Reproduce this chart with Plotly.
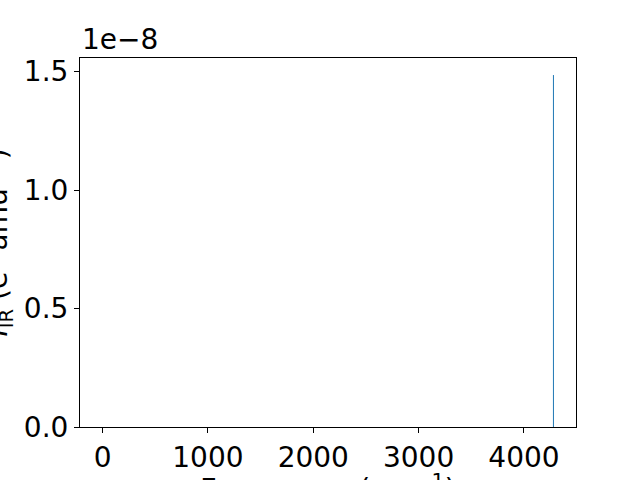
import plotly.graph_objects as go

frequencies = [4280.0]
intensities = [1.485e-8]
ytick_vals = [0.0, 0.5e-8, 1.0e-8, 1.5e-8]
ytick_text = ["0.0", "0.5", "1.0", "1.5"]
xtick_vals = [0, 1000, 2000, 3000, 4000]

xs, ys = [], []
for f, v in zip(frequencies, intensities):
    xs += [f, f, None]
    ys += [0, v, None]

FONT = "DejaVu Sans"
FS = 28
fig = go.Figure()
fig.add_trace(go.Scatter(x=xs, y=ys, mode="lines",
                         line=dict(color="#1f77b4", width=1), showlegend=False))

fig.update_layout(
    template="none",
    width=640, height=480,
    margin=dict(l=80, r=64, t=58, b=53),
    paper_bgcolor="white", plot_bgcolor="white",
    font=dict(family=FONT, size=FS, color="black"),
    xaxis=dict(range=[-214, 4494], tickvals=xtick_vals, ticks="outside", ticklen=5,
               tickcolor="black", showline=True, linecolor="black", linewidth=1,
               mirror=True, showgrid=False, zeroline=False, automargin=False,
               tickfont=dict(family=FONT, size=FS, color="black")),
    yaxis=dict(range=[0, 1.557e-8], tickvals=ytick_vals, ticktext=ytick_text,
               ticks="outside", ticklen=5, tickcolor="black", showline=True,
               linecolor="black", linewidth=1, mirror=True, showgrid=False,
               zeroline=False, automargin=False,
               tickfont=dict(family=FONT, size=FS, color="black")),
    annotations=[
        dict(text="1e\u22128", xref="paper", yref="paper", x=0, y=1, yshift=0,
             xanchor="left", yanchor="bottom", showarrow=False,
             font=dict(family=FONT, size=FS, color="black")),
        dict(text="<i>I</i><sub>IR</sub> (e<sup>2</sup> amu<sup>\u22121</sup>)",
             xref="paper", yref="paper", x=0, y=0.5, xshift=-82,
             xanchor="center", yanchor="middle", textangle=-90, showarrow=False,
             font=dict(family=FONT, size=FS, color="black")),
        dict(text="Frequency (cm<sup>\u22121</sup>)", xref="paper", yref="paper",
             x=0.5, y=0, yshift=-39, xanchor="center", yanchor="top",
             showarrow=False, font=dict(family=FONT, size=29, color="black")),
    ],
)
fig.write_html("out.html", config={"displayModeBar": False},
               post_script="document.body.style.margin='0px';")
